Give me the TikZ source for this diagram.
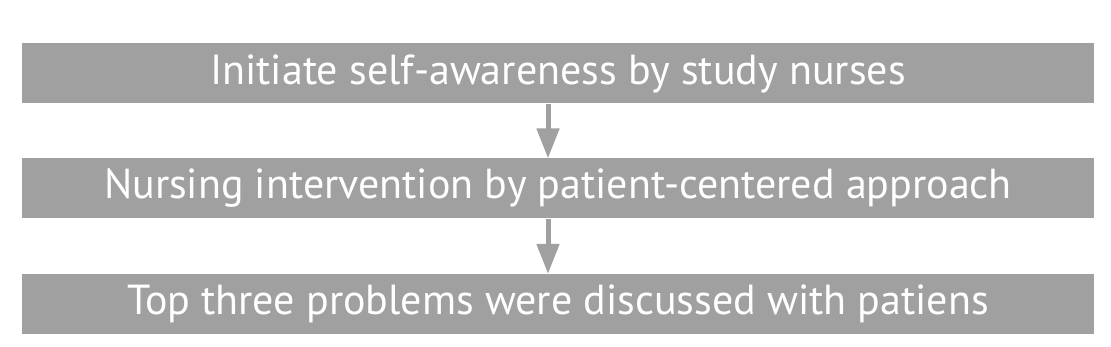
\documentclass[tikz,border=0pt]{standalone}
\usepackage{fontspec}
\setmainfont{PT Sans}
\usetikzlibrary{arrows.meta}
\definecolor{boxgray}{HTML}{A0A0A0}
\tikzset{
  stepbox/.style={fill=boxgray, draw=none, minimum width=1072pt, minimum height=60pt,
    inner sep=0pt, text=white, font=\fontsize{42}{50}\selectfont, anchor=center},
  flowarrow/.style={draw=boxgray, line width=5pt,
    -{Triangle[width=22pt,length=30pt]}, shorten >=0pt}
}
\begin{document}
\begin{tikzpicture}[x=1pt,y=1pt]
\useasboundingbox (0,0) rectangle (1111,347);
\node[stepbox] (a) at (558,347-73.5) {Initiate self-awareness by study nurses};
\node[stepbox] (b) at (558,347-188.5) {Nursing intervention by patient-centered approach};
\node[stepbox] (c) at (558,347-304) {Top three problems were discussed with patiens};
\draw[flowarrow] (a.south -| 548,0) -- (b.north -| 548,0);
\draw[flowarrow] (b.south -| 548,0) -- (c.north -| 548,0);
\end{tikzpicture}
\end{document}
